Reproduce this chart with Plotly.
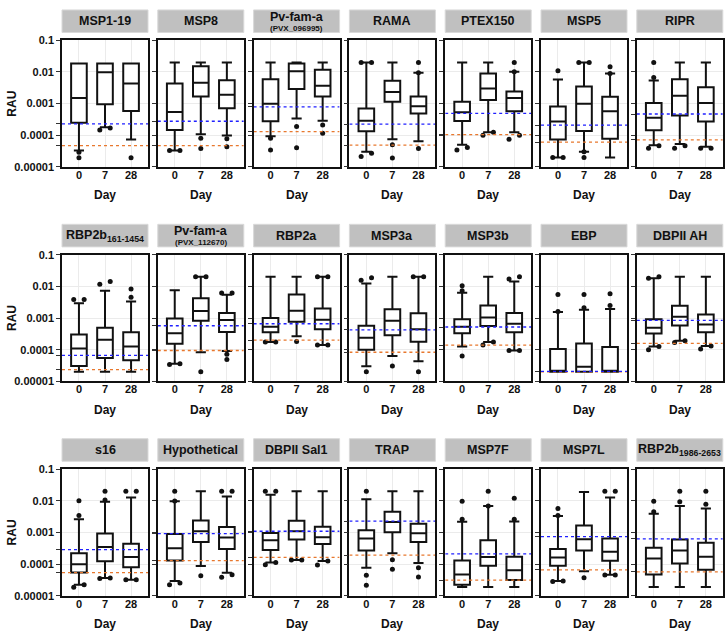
import math
import plotly.graph_objects as go

# ---------------- data ----------------
ANTIGENS = [
    "MSP1-19", "MSP8", "Pv-fam-a|(PVX_096995)", "RAMA", "PTEX150", "MSP5", "RIPR",
    "RBP2b<sub>161-1454</sub>", "Pv-fam-a|(PVX_112670)", "RBP2a", "MSP3a", "MSP3b", "EBP", "DBPII AH",
    "s16", "Hypothetical", "DBPII Sal1", "TRAP", "MSP7F", "MSP7L", "RBP2b<sub>1986-2653</sub>",
]
DAYS = ["0", "7", "28"]

LOWER = [
    [3.3e-5, 1.8e-4, 7.3e-5], [3.3e-5, 1.07e-4, 9.8e-5], [9.3e-5, 3.4e-4, 2.9e-4],
    [3.0e-5, 7.5e-5, 6.5e-5], [5.0e-5, 1.24e-4, 1.24e-4], [2.0e-5, 3.0e-5, 2.0e-5],
    [4.8e-5, 5.3e-5, 4.3e-5],
    [2.0e-5, 2.0e-5, 2.0e-5], [3.6e-5, 8.3e-5, 9.1e-5], [1.74e-4, 2.67e-4, 1.4e-4],
    [3.0e-5, 6.3e-5, 4.3e-5], [1.25e-4, 1.74e-4, 9.4e-5], [2.0e-5, 2.0e-5, 2.0e-5],
    [1.25e-4, 1.91e-4, 1.3e-4],
    [2.24e-5, 3.6e-5, 3.2e-5], [2.9e-5, 8.7e-5, 5.3e-5], [1.13e-4, 1.34e-4, 1.25e-4],
    [7.6e-5, 2.21e-4, 1.08e-4], [1.9e-5, 1.9e-5, 1.9e-5], [2.9e-5, 5.96e-5, 4.6e-5],
    [1.9e-5, 1.9e-5, 1.9e-5],
]
Q1 = [
    [2.47e-4, 9.5e-4, 5.9e-4], [1.46e-4, 1.69e-3, 7.2e-4], [2.77e-4, 2.9e-3, 1.69e-3],
    [1.33e-4, 1.15e-3, 4.9e-4], [2.84e-4, 1.3e-3, 5.7e-4], [7.3e-5, 1.36e-4, 7.7e-5],
    [1.43e-4, 4.25e-4, 2.7e-4],
    [3.06e-5, 5.5e-5, 4.6e-5], [1.55e-4, 8.2e-4, 3.6e-4], [3.55e-4, 7.6e-4, 4.4e-4],
    [1.0e-4, 2.86e-4, 1.78e-4], [3.3e-4, 5.6e-4, 3.55e-4], [2.0e-5, 2.0e-5, 2.0e-5],
    [3.23e-4, 5.85e-4, 3.55e-4],
    [5.4e-5, 1.22e-4, 7.95e-5], [1.3e-4, 4.95e-4, 3.0e-4], [2.8e-4, 6.0e-4, 4.3e-4],
    [2.67e-4, 1.01e-3, 4.95e-4], [2.24e-5, 8.9e-5, 3.13e-5], [8.9e-5, 2.7e-4, 1.28e-4],
    [4.7e-5, 1.05e-4, 6.6e-5],
]
MEDIAN = [
    [1.5e-3, 9.8e-3, 4.3e-3], [5.4e-4, 4.6e-3, 1.9e-3], [1.0e-3, 1.05e-2, 3.7e-3],
    [2.9e-4, 2.35e-3, 8.3e-4], [5.3e-4, 3.0e-3, 1.5e-3], [2.7e-4, 1.0e-3, 5.7e-4],
    [3.6e-4, 1.77e-3, 1.05e-3],
    [1.08e-4, 2.06e-4, 1.25e-4], [3.3e-4, 1.67e-3, 8.6e-4], [5.3e-4, 1.71e-3, 8.8e-4],
    [2.37e-4, 8.2e-4, 4.4e-4], [5.3e-4, 1.03e-3, 6.6e-4], [2.0e-5, 2.9e-5, 2.0e-5],
    [4.95e-4, 1.09e-3, 6.3e-4],
    [9.8e-5, 3.47e-4, 1.66e-4], [3.15e-4, 1.09e-3, 6.9e-4], [5.7e-4, 1.09e-3, 7.1e-4],
    [6.45e-4, 2.12e-3, 9.4e-4], [4.7e-5, 1.66e-4, 6.4e-5], [1.62e-4, 6.1e-4, 2.43e-4],
    [1.5e-4, 2.7e-4, 1.7e-4],
]
Q3 = [
    [1.85e-2, 1.85e-2, 1.85e-2], [4.3e-3, 1.53e-2, 5.5e-3], [5.9e-3, 1.85e-2, 1.18e-2],
    [7.0e-4, 5.3e-3, 1.69e-3], [1.15e-3, 8.9e-3, 2.4e-3], [8.1e-4, 3.5e-3, 1.65e-3],
    [1.05e-3, 5.9e-3, 3.3e-3],
    [3.0e-4, 4.95e-4, 3.55e-4], [9.6e-4, 4.2e-3, 1.45e-3], [1.0e-3, 5.5e-3, 2.0e-3],
    [5.7e-4, 1.88e-3, 1.41e-3], [9.2e-4, 2.5e-3, 1.45e-3], [1.05e-4, 1.58e-4, 1.22e-4],
    [9.2e-4, 2.44e-3, 1.29e-3],
    [2.21e-4, 9.2e-4, 4.4e-4], [9.0e-4, 2.38e-3, 1.48e-3], [9.6e-4, 2.33e-3, 1.52e-3],
    [1.17e-3, 4.53e-3, 1.88e-3], [1.3e-4, 5.7e-4, 1.7e-4], [3.0e-4, 1.67e-3, 6.4e-4],
    [3.3e-4, 6.0e-4, 4.7e-4],
]
UPPER = [
    [1.85e-2, 1.85e-2, 1.85e-2], [2e-2, 2e-2, 2e-2], [2e-2, 2e-2, 2e-2],
    [2e-2, 2e-2, 9.5e-3], [2e-2, 2e-2, 1.02e-2], [5.8e-3, 2e-2, 8.9e-3],
    [5.4e-3, 2e-2, 2e-2],
    [2.95e-3, 7.3e-3, 3.3e-3], [7.5e-3, 2e-2, 5.4e-3], [2e-2, 2e-2, 2e-2],
    [1.23e-2, 2e-2, 2e-2], [6.3e-3, 2e-2, 1.42e-2], [1.55e-3, 1.84e-3, 1.92e-3],
    [1.8e-2, 2e-2, 2e-2],
    [2.62e-3, 9.3e-3, 1.26e-2], [9.7e-3, 2e-2, 1.36e-2], [1.56e-2, 2e-2, 2e-2],
    [1.12e-2, 2e-2, 2e-2], [2.17e-3, 6.8e-3, 2.22e-3], [3.33e-3, 1.9e-2, 1.26e-2],
    [3.9e-3, 6.8e-3, 5.75e-3],
]
OUTLIERS = [
    [[2.9e-5, 1.95e-5], [1.46e-4, 1.7e-4], [1.95e-5]],
    [[3.3e-5, 3.3e-5], [8.1e-5, 3.8e-5], [7.7e-5, 4.3e-5]],
    [[8.1e-5, 3.4e-5], [1.9e-4, 4.0e-5], [2.1e-4, 1.15e-4]],
    [[2e-2, 2e-2, 2.14e-5, 2.7e-5], [5.0e-5, 1.9e-5], [2e-2, 9.5e-3, 3.8e-5]],
    [[3.4e-5, 4.1e-5], [1.0e-4, 1.24e-4], [2e-2, 1.02e-2, 7.5e-5, 1.0e-4]],
    [[1.1e-2, 2.0e-5, 2.0e-5], [2e-2, 2e-2, 3.0e-5, 2.0e-5], [1.46e-2, 9.0e-3]],
    [[2e-2, 6.7e-3, 3.9e-5, 4.7e-5], [3.9e-5, 4.7e-5], [3.9e-5, 3.9e-5]],
    [[3.84e-3, 3.84e-3], [1.17e-2, 1.42e-2], [8.2e-3, 4.5e-3]],
    [[3.4e-5, 3.6e-5], [2e-2, 2e-2, 2.0e-5], [6.2e-3, 6.2e-3, 7.2e-5, 4.9e-5]],
    [[1.74e-4, 1.74e-4], [1.82e-4], [2e-2, 2e-2, 1.4e-4, 1.4e-4]],
    [[1.56e-2, 1.89e-2, 2.0e-5], [3.06e-5], [2e-2, 2e-2, 2.0e-5]],
    [[1.04e-2, 7.3e-3, 6.3e-5], [1.4e-4, 1.74e-4], [1.7e-2, 2e-2, 9.4e-5, 9.4e-5]],
    [[5.5e-3, 1.6e-3], [5.5e-3, 2.1e-3], [5.8e-3, 2.5e-3]],
    [[2e-2, 1.8e-2, 1.0e-4, 1.25e-4], [1.7e-4, 1.9e-4], [1.05e-4, 1.3e-4]],
    [[1.0e-2, 3.4e-3, 1.86e-5, 2.24e-5], [2e-2, 1.05e-2, 3.5e-5, 3.6e-5], [2e-2, 2e-2, 3.2e-5, 3.2e-5]],
    [[2e-2, 9.9e-3, 2.24e-5, 2.5e-5], [4.3e-5], [2e-2, 2e-2, 3.8e-5, 4.6e-5]],
    [[2e-2, 2e-2, 9.6e-5, 1.13e-4], [1.34e-4, 1.34e-4], [9.4e-5, 1.25e-4]],
    [[2e-2, 4.4e-5, 2.14e-5], [1.37e-4, 6.9e-5], [7.6e-5, 3.9e-5]],
    [[9.7e-3, 2.62e-3], [2e-2, 6.9e-3], [1.2e-2, 2.6e-3]],
    [[5.75e-3, 3.4e-3, 2.8e-5, 2.9e-5], [3.7e-5], [2e-2, 2e-2, 4.5e-5, 4.5e-5]],
    [[9.7e-3, 4.5e-3], [2e-2, 9.3e-3], [2e-2, 7.8e-3]],
]
BLUE_CUTOFF = [
    2.3e-4, 2.77e-4, 7.9e-4, 2.25e-4, 4.9e-4, 2.1e-4, 4.7e-4,
    6.6e-5, 5.7e-4, 6.6e-4, 4.2e-4, 5.2e-4, 2.05e-5, 8.4e-4,
    2.86e-4, 9.2e-4, 1.09e-3, 2.28e-3, 2.1e-4, 7.4e-4, 6.3e-4,
]
ORANGE_CUTOFF = [
    4.7e-5, 4.7e-5, 1.3e-4, 4.9e-5, 1.05e-4, 6.1e-5, 7.2e-5,
    2.35e-5, 9.4e-5, 2.0e-4, 8.3e-5, 1.4e-4, 2.0e-5, 1.58e-4,
    5.4e-5, 1.28e-4, 1.62e-4, 1.91e-4, 3.1e-5, 6.6e-5, 5.7e-5,
]
DECADES = [1e-5, 1e-4, 1e-3, 1e-2, 1e-1]
DECADE_LABELS = ["0.00001", "0.0001", "0.001", "0.01", "0.1"]

# ---------------- layout geometry ----------------
W, H = 727, 639
NCOL = 7
FRAME_L0, COL_PITCH, FRAME_W = 62, 95.8, 86
FRAME_T0, ROW_PITCH, FRAME_H = 35, 218.5, 129
XR = [-0.65, 2.65]
FONT = "Liberation Sans, Arial, Helvetica, sans-serif"
BLACK = "#111111"


def dodge(vals, tol=0.13, spread=0.2):
    order = sorted(range(len(vals)), key=lambda k: vals[k])
    offs = [0.0] * len(vals)
    groups = []
    for k in order:
        if groups and math.log10(vals[k]) - math.log10(vals[groups[-1][-1]]) < tol:
            groups[-1].append(k)
        else:
            groups.append([k])
    for g in groups:
        n = len(g)
        if n > 1:
            for j, k in enumerate(g):
                offs[k] = -spread + 2 * spread * j / (n - 1)
    return offs


fig = go.Figure()
lay = {}
shapes, annots = [], []

for i, name in enumerate(ANTIGENS):
    r, c = divmod(i, NCOL)
    left = FRAME_L0 + c * COL_PITCH
    top = FRAME_T0 + r * ROW_PITCH
    xd = [left / W, (left + FRAME_W) / W]
    yd = [1 - (top + FRAME_H) / H, 1 - top / H]
    sfx = "" if i == 0 else str(i + 1)
    xa, ya = "x" + sfx, "y" + sfx

    lay["xaxis" + sfx] = dict(
        domain=xd, anchor=ya, range=XR, tickmode="array", tickvals=[0, 1, 2],
        ticktext=DAYS, ticks="", showgrid=True, gridcolor="#ebebeb", gridwidth=1,
        showline=True, mirror=True, linecolor=BLACK, linewidth=1.6, zeroline=False,
        tickfont=dict(family=FONT, size=11, color=BLACK, weight="bold"),
        ticklabelstandoff=-3,
    )
    lay["yaxis" + sfx] = dict(
        domain=yd, anchor=xa, type="log", range=[-5, -1], tickmode="array",
        tickvals=DECADES, ticktext=DECADE_LABELS, showticklabels=(c == 0),
        ticks="outside", ticklen=4, tickwidth=1, tickcolor="#333333",
        showgrid=True, gridcolor="#ebebeb", gridwidth=1,
        showline=True, mirror=True, linecolor=BLACK, linewidth=1.6, zeroline=False,
        tickfont=dict(family=FONT, size=11, color=BLACK, weight="bold"),
        minor=dict(tickmode="array", tickvals=[BLUE_CUTOFF[i], ORANGE_CUTOFF[i]],
                   ticks="outside", ticklen=4, tickwidth=1, tickcolor="#333333",
                   showgrid=False),
    )

    # box plot from summary statistics
    fig.add_trace(go.Box(
        x=[0, 1, 2], q1=Q1[i], median=MEDIAN[i], q3=Q3[i],
        lowerfence=LOWER[i], upperfence=UPPER[i],
        width=0.6, whiskerwidth=0.65, boxpoints=False,
        fillcolor="white", line=dict(color=BLACK, width=2),
        xaxis=xa, yaxis=ya, showlegend=False, hoverinfo="skip",
    ))

    # outliers
    ox, oy = [], []
    for d in range(3):
        vals = OUTLIERS[i][d]
        offs = dodge(vals)
        for v, o in zip(vals, offs):
            ox.append(d + o)
            oy.append(v)
    fig.add_trace(go.Scatter(
        x=ox, y=oy, mode="markers", marker=dict(color=BLACK, size=5),
        xaxis=xa, yaxis=ya, showlegend=False, hoverinfo="skip",
    ))

    # cut-off lines
    fig.add_trace(go.Scatter(
        x=XR, y=[ORANGE_CUTOFF[i]] * 2, mode="lines",
        line=dict(color="#e8782e", width=1.3, dash="dot"),
        xaxis=xa, yaxis=ya, showlegend=False, hoverinfo="skip",
    ))
    fig.add_trace(go.Scatter(
        x=XR, y=[BLUE_CUTOFF[i]] * 2, mode="lines",
        line=dict(color="#2020ff", width=1.3, dash="dot"),
        xaxis=xa, yaxis=ya, showlegend=False, hoverinfo="skip",
    ))

    # header strip
    h0, h1 = top - 31, top - 8
    shapes.append(dict(
        type="rect", xref="paper", yref="paper",
        x0=left / W, x1=(left + FRAME_W) / W, y0=1 - h1 / H, y1=1 - h0 / H,
        fillcolor="#c0c0c0", line=dict(color="#d9d9d9", width=1), layer="below",
    ))
    cx = (left + FRAME_W / 2) / W
    if "|" in name:
        main, sub = name.split("|")
        annots.append(dict(
            x=cx, y=1 - (h0 + 7) / H, xref="paper", yref="paper", text=main,
            showarrow=False, font=dict(family=FONT, size=12.5, color=BLACK, weight="bold"),
            xanchor="center", yanchor="middle",
        ))
        annots.append(dict(
            x=cx, y=1 - (h0 + 18.5) / H, xref="paper", yref="paper", text=sub,
            showarrow=False, font=dict(family=FONT, size=8, color=BLACK, weight="bold"),
            xanchor="center", yanchor="middle",
        ))
    else:
        annots.append(dict(
            x=cx, y=1 - (h0 + 11.5) / H, xref="paper", yref="paper", text=name,
            showarrow=False, font=dict(family=FONT, size=12.5, color=BLACK, weight="bold"),
            xanchor="center", yanchor="middle",
        ))

    # x-axis title
    annots.append(dict(
        x=cx, y=1 - (top + FRAME_H + 29) / H, xref="paper", yref="paper", text="Day",
        showarrow=False, font=dict(family=FONT, size=12, color=BLACK, weight="bold"),
        xanchor="center", yanchor="middle",
    ))
    # y-axis title
    if c == 0:
        annots.append(dict(
            x=12 / W, y=1 - (top + FRAME_H / 2) / H, xref="paper", yref="paper",
            text="RAU", textangle=-90, showarrow=False,
            font=dict(family=FONT, size=12, color=BLACK, weight="bold"),
            xanchor="center", yanchor="middle",
        ))

fig.update_layout(
    width=W, height=H, margin=dict(l=0, r=0, t=0, b=0),
    paper_bgcolor="white", plot_bgcolor="white",
    shapes=shapes, annotations=annots, showlegend=False,
    **lay,
)
fig.write_html(
    "out.html",
    config={"displayModeBar": False},
    post_script="document.body.style.margin='0';document.body.style.overflow='hidden';",
)
